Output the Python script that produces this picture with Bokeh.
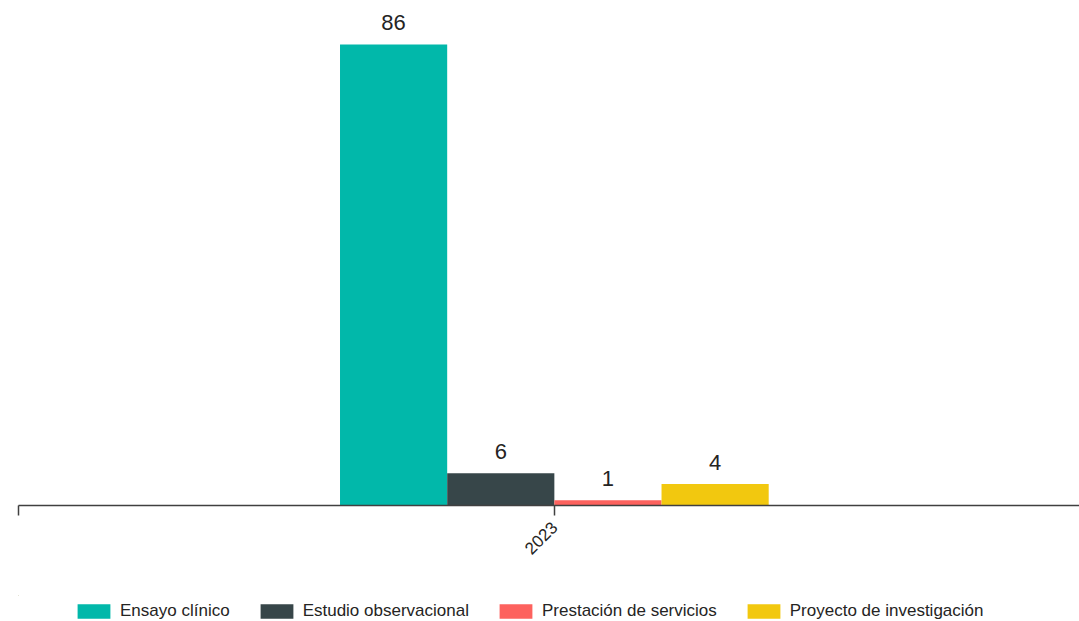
from math import pi
from bokeh.plotting import figure
from bokeh.layouts import column
from bokeh.models import (ColumnDataSource, Range1d, FixedTicker, Legend, LegendItem, LabelSet)
from bokeh.core.properties import value
from bokeh.embed import file_html
from bokeh.resources import INLINE

years = ["2023"]
series = ["Ensayo clínico", "Estudio observacional", "Prestación de servicios", "Proyecto de investigación"]
values = [86, 6, 1, 4]
colors = ["#01B8AA", "#374649", "#FD625E", "#F2C80F"]

bar_w = 0.2
n = len(series)
offsets = [(i - (n - 1) / 2) * bar_w for i in range(n)]

p = figure(width=1079, height=595, output_backend="svg", toolbar_location=None,
           x_range=Range1d(-1.0, 0.98), y_range=Range1d(0, 92.7),
           min_border_left=18, min_border_right=0, min_border_top=8, min_border_bottom=90,
           y_axis_location=None)
p.outline_line_color = None
p.grid.visible = False

# separate strip that only carries the legend (its bars lie outside its ranges)
pl = figure(width=1079, height=26, output_backend="svg", toolbar_location=None,
            x_range=Range1d(50, 51), y_range=Range1d(-1000, -999),
            min_border_left=0, min_border_right=0, min_border_top=0, min_border_bottom=0,
            x_axis_location=None, y_axis_location=None)
pl.outline_line_color = None
pl.grid.visible = False

items = []
lab_x, lab_y, lab_t = [], [], []
for i, (name, val, col) in enumerate(zip(series, values, colors)):
    src = ColumnDataSource(dict(x=[0 + offsets[i]], top=[val]))
    p.vbar(x="x", top="top", bottom=0, width=bar_w, source=src,
           fill_color=col, line_color=None)
    rl = pl.vbar(x="x", top="top", bottom=0, width=bar_w, source=src,
                 fill_color=col, line_color=None)
    items.append(LegendItem(label=name, renderers=[rl]))
    lab_x.append(offsets[i]); lab_y.append(val); lab_t.append(str(val))

lsrc = ColumnDataSource(dict(x=lab_x, y=lab_y, t=lab_t))
labels = LabelSet(x="x", y="y", text="t", source=lsrc, y_offset=14,
                  text_align="center", text_baseline="alphabetic",
                  text_font=value("Liberation Sans"), text_font_size=value("22px"),
                  text_color="#252423")
p.add_layout(labels)

ax = p.xaxis[0]
ax.ticker = FixedTicker(ticks=[-1, 0])
ax.major_label_overrides = {-1: "", 0: years[0]}
ax.major_label_orientation = pi / 4
ax.major_label_text_font = "Liberation Sans"
ax.major_label_text_font_size = "17px"
ax.major_label_text_color = "#252423"
ax.axis_line_color = "#404040"
ax.axis_line_width = 1.5
ax.major_tick_line_color = "#404040"
ax.major_tick_line_width = 1.5
ax.major_tick_out = 10
ax.major_tick_in = 0
ax.minor_tick_line_color = None
ax.major_label_standoff = 9

legend = Legend(items=items, orientation="horizontal", location=(55, 0),
                glyph_width=41, glyph_height=18, label_standoff=6, spacing=26,
                label_text_font="Liberation Sans", label_text_font_size="17px",
                label_text_color="#252423", border_line_color=None,
                background_fill_alpha=0, margin=0, padding=2)
pl.add_layout(legend, "center")

layout = column(p, pl, spacing=0)
open("out.html", "w").write(file_html(layout, INLINE))
